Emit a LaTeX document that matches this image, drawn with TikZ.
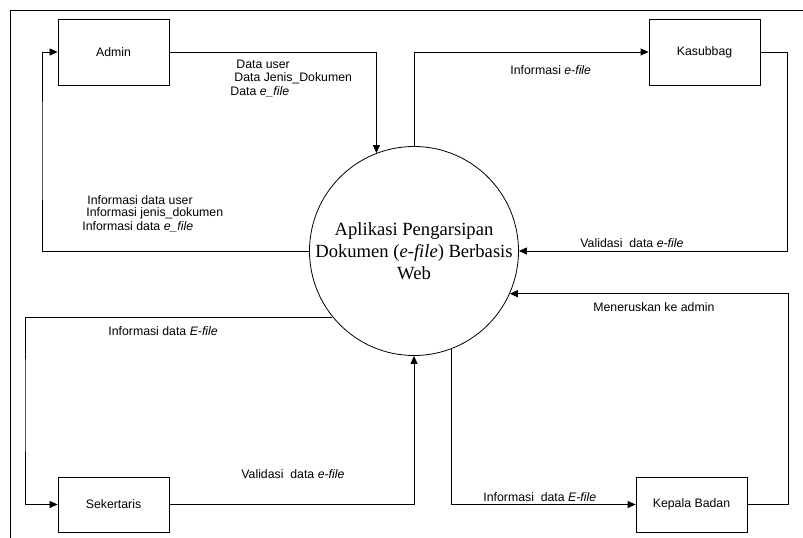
\documentclass[tikz,border=0pt]{standalone}
\usepackage{fontspec}
\setmainfont{Liberation Sans}
\newfontfamily\serifface{Liberation Serif}
\usetikzlibrary{arrows.meta}

\begin{document}
\begin{tikzpicture}[x=1bp, y=-1bp, line width=0.8bp,
  entity/.style={draw, rectangle, minimum width=111bp, inner sep=0,
    font=\fontsize{12.3bp}{14bp}\selectfont},
  flow/.style={-{Triangle[length=8bp, width=7bp]}},
  lbl/.style={anchor=west, inner sep=0, font=\fontsize{12.3bp}{14bp}\selectfont}]

  % page extent
  \path[use as bounding box] (0,0) rectangle (803,538);

  % outer frame (top and left edges)
  \draw (10,538) -- (10,10) -- (803,10);

  % external entities
  \node[entity, minimum height=66bp] (admin)      at (113.5,52)  {Admin};
  \node[entity, minimum height=66bp] (kasubbag)   at (704.5,52)  {Kasubbag};
  \node[entity, minimum height=55bp] (sekertaris) at (113.5,504.5) {Sekertaris};
  \node[entity, minimum height=55bp] (kepala)     at (691.5,504.5) {Kepala Badan};

  % central process
  \node[draw, circle, minimum size=209bp, inner sep=0] (app) at (414,251) {};
  \node[align=center, inner sep=0,
        font=\serifface\fontsize{18.6bp}{22bp}\selectfont] (apptext) at (app.center)
    {Aplikasi Pengarsipan\\Dokumen (\textit{e-file}) Berbasis\\Web};

  % bend points of the routed flows
  \coordinate (adminLoop) at (42,150);
  \coordinate (kasRight)  at (787,150);
  \coordinate (kepRight)  at (788,400);
  \coordinate (sekLoop)   at (25,400);

  % data flows
  \draw[flow] (admin.east) -| (app.111.9);
  \draw[flow] (app.north) |- (kasubbag.west);
  \draw[flow] (app.west) -| (adminLoop) |- (admin.west);
  \draw[flow] (kasubbag.east) -| (kasRight) |- (app.east);
  \draw[flow] (kepala.east) -| (kepRight) |- (app.-24.3);
  \draw[flow] (app.-69.3) |- (kepala.west);
  \draw[flow] (sekertaris.east) -| (app.south);
  \draw[flow] (app.219.2) -| (sekLoop) |- (sekertaris.west);

  % flow labels
  \node[lbl] (lAdm1) at (236,64) {Data user};
  \node[lbl] (lAdm2) at (234,78) {Data Jenis\_Dokumen};
  \node[lbl] (lAdm3) at (230,92) {Data \textit{e\_file}};
  \node[lbl] (lInf1) at (87,200) {Informasi data user};
  \node[lbl] (lInf2) at (86,213) {Informasi jenis\_dokumen};
  \node[lbl] (lInf3) at (82,227) {Informasi data \textit{e\_file}};
  \node[lbl] (lKas)  at (510,70) {Informasi \textit{e-file}};
  \node[lbl] (lVal1) at (580,243) {Validasi\ \ data \textit{e-file}};
  \node[lbl] (lTer)  at (593,307) {Meneruskan ke admin};
  \node[lbl] (lSek)  at (108,331) {Informasi data \textit{E-file}};
  \node[lbl] (lVal2) at (241,474) {Validasi\ \ data \textit{e-file}};
  \node[lbl] (lKep)  at (483,497) {Informasi\ \ data \textit{E-file}};
\end{tikzpicture}
\end{document}
